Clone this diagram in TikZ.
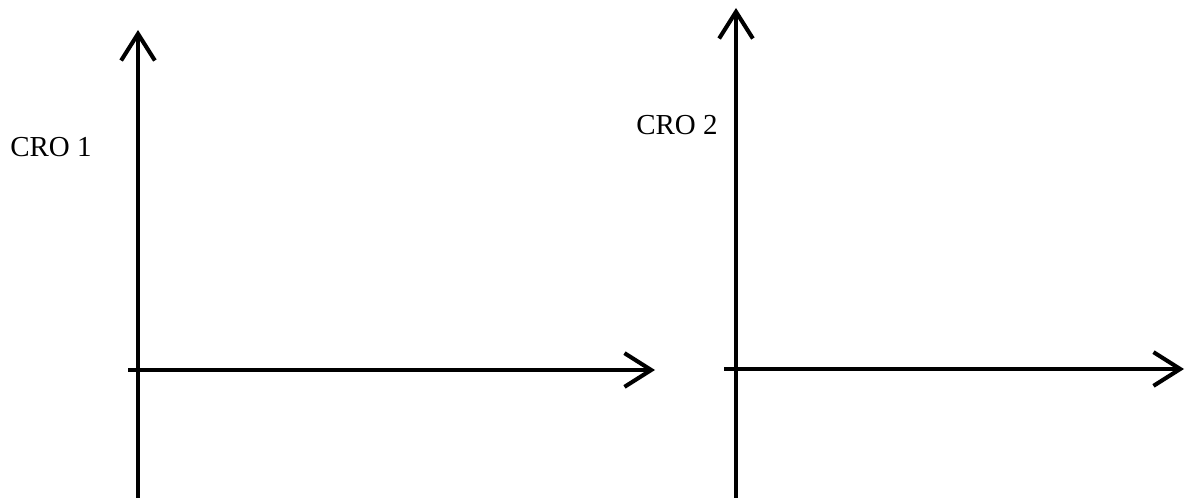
\documentclass[tikz,border=0pt]{standalone}
\usepackage{fontspec}
\setmainfont{Liberation Serif}
\usetikzlibrary{arrows.meta}
\begin{document}
\begin{tikzpicture}[x=0.025cm,y=-0.025cm,
  axis/.style={line width=2.9pt,-{Straight Barb[length=19pt,width=24pt,line width=2.9pt]}},
  every node/.style={font=\fontsize{20.6}{23}\selectfont,inner sep=0pt}]
\useasboundingbox (0,0) rectangle (1187,498);
% first screen
\coordinate (b1) at (138,498);
\coordinate (t1) at (138,30);
\coordinate (l1) at (128,370);
\coordinate (r1) at (655,370);
\draw[axis] (b1)--(t1);
\draw[axis] (l1)--(r1);
\node[anchor=base west] (cro1) at (10,157) {CRO 1};
% second screen
\coordinate (b2) at (736,498);
\coordinate (t2) at (736,8);
\coordinate (l2) at (724,369);
\coordinate (r2) at (1184,369);
\draw[axis] (b2)--(t2);
\draw[axis] (l2)--(r2);
\node[anchor=base west] (cro2) at (636,135) {CRO 2};
\end{tikzpicture}
\end{document}
